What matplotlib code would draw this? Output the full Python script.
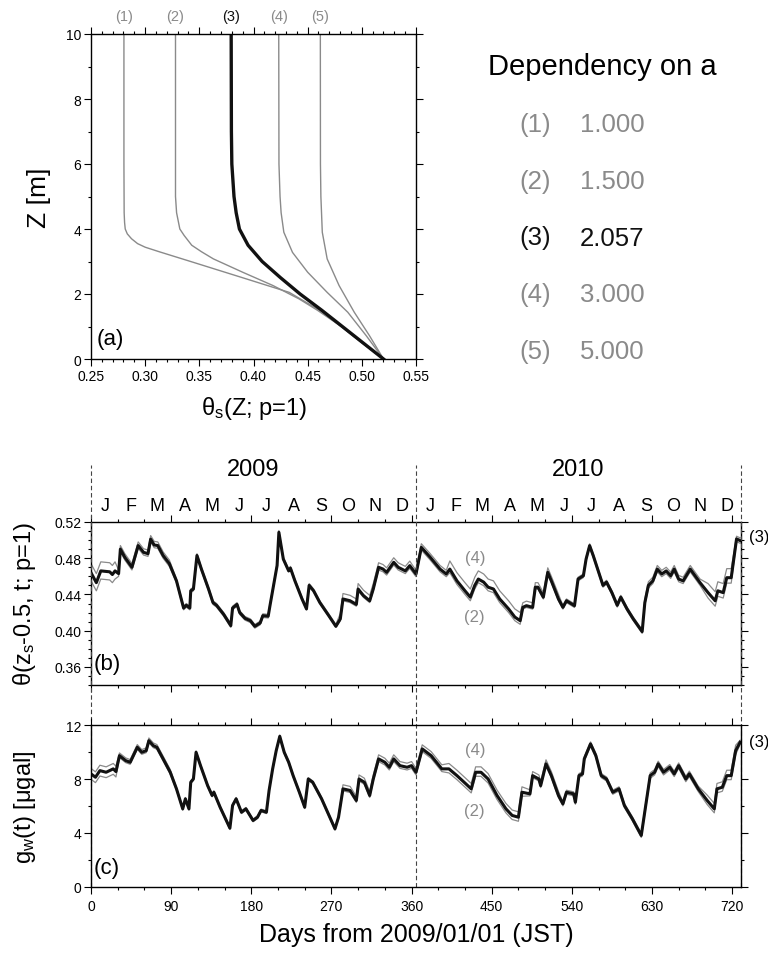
import numpy as np
import matplotlib
matplotlib.use("Agg")
import matplotlib.pyplot as plt
from matplotlib.ticker import MultipleLocator, FormatStrFormatter

plt.rcParams["font.family"] = ["Liberation Sans", "DejaVu Sans"]
plt.rcParams["mathtext.default"] = "regular"

GRAY = "#8a8a8a"
W, H = 768, 954

# ---- panel (a): theta_s(Z) profiles, one per value of a ----
z1 = [10, 6, 4.5, 4.2, 4.0, 3.85, 3.7, 3.55, 3.44, 3.3, 3.0, 2.5, 2.05, 1.5, 1.0, 0.5, 0]
t1 = [0.2804, 0.2804, 0.2806, 0.281, 0.2816, 0.2835, 0.2874, 0.293, 0.300, 0.313, 0.342,
      0.390, 0.433, 0.461, 0.481, 0.500, 0.520]
z2 = [10, 5, 4.5, 4.0, 3.8, 3.5, 3.3, 3.08, 2.67, 2.26, 1.85, 1.5, 1.0, 0.5, 0]
t2 = [0.328, 0.328, 0.329, 0.332, 0.336, 0.343, 0.352, 0.363, 0.390, 0.418, 0.442, 0.459,
      0.481, 0.500, 0.520]
z3 = [10, 7, 6, 5, 4.5, 4.0, 3.5, 3.0, 2.5, 2.0, 1.5, 1.0, 0.5, 0]
t3 = [0.3794, 0.3796, 0.380, 0.382, 0.384, 0.387, 0.395, 0.408, 0.425, 0.443, 0.463, 0.482,
      0.501, 0.520]
z4 = [10, 6, 5, 4.5, 3.9, 3.28, 2.67, 2.05, 1.44, 0.72, 0]
t4 = [0.4233, 0.4235, 0.4245, 0.4255, 0.428, 0.436, 0.450, 0.468, 0.487, 0.504, 0.520]
z5 = [10, 6, 5, 3.9, 3.08, 2.26, 1.44, 0.72, 0]
t5 = [0.4617, 0.4618, 0.4622, 0.4635, 0.468, 0.479, 0.493, 0.507, 0.520]

case_labels = ["(1)", "(2)", "(3)", "(4)", "(5)"]
a_values = ["1.000", "1.500", "2.057", "3.000", "5.000"]

# ---- panel (b): theta(z_s-0.5, t; p=1), case (3) ----
b_days = [0, 6, 11, 21, 24, 27, 31, 33, 38, 46,
          53, 59, 64, 67, 71, 75, 81, 88, 96, 104,
          107, 111, 112, 115, 119, 124, 132, 137, 141, 149,
          157, 159, 164, 167, 173, 179, 184, 190, 193, 199,
          201, 205, 209, 211, 216, 222, 224, 229, 237, 242,
          245, 250, 257, 267, 275, 280, 283, 291, 298, 300,
          306, 313, 317, 323, 328, 332, 340, 345, 353, 358,
          365, 371, 381, 392, 399, 403, 411, 420, 426, 431,
          435, 441, 446, 452, 459, 469, 476, 482, 485, 489,
          496, 499, 502, 508, 513, 517, 525, 530, 534, 543,
          547, 553, 556, 560, 564, 572, 575, 579, 585, 591,
          595, 602, 609, 619, 622, 626, 631, 636, 641, 646,
          651, 655, 660, 665, 673, 684, 693, 701, 704, 710,
          714, 719, 725, 729]
b_theta = [0.464, 0.453, 0.466, 0.465, 0.462, 0.466, 0.463, 0.490, 0.481, 0.470,
           0.494, 0.4865, 0.485, 0.501, 0.4946, 0.494, 0.483, 0.474, 0.455, 0.425,
           0.428, 0.425, 0.444, 0.446, 0.483, 0.468, 0.446, 0.431, 0.428, 0.418,
           0.4056, 0.425, 0.429, 0.420, 0.4136, 0.411, 0.4048, 0.4085, 0.4166, 0.416,
           0.4276, 0.450, 0.472, 0.5086, 0.479, 0.466, 0.469, 0.455, 0.435, 0.424,
           0.450, 0.444, 0.431, 0.4166, 0.4048, 0.413, 0.435, 0.433, 0.429, 0.446,
           0.4387, 0.433, 0.446, 0.470, 0.468, 0.4644, 0.4755, 0.470, 0.466, 0.4718,
           0.4626, 0.492, 0.481, 0.468, 0.4626, 0.468, 0.455, 0.444, 0.437, 0.450,
           0.457, 0.4536, 0.448, 0.446, 0.435, 0.424, 0.415, 0.411, 0.4258, 0.4276,
           0.4258, 0.448, 0.448, 0.437, 0.4644, 0.455, 0.435, 0.4258, 0.433, 0.4276,
           0.457, 0.4607, 0.479, 0.4939, 0.483, 0.459, 0.450, 0.4536, 0.442, 0.428,
           0.437, 0.424, 0.413, 0.399, 0.431, 0.450, 0.455, 0.468, 0.4626, 0.466,
           0.4607, 0.468, 0.457, 0.455, 0.468, 0.453, 0.442, 0.433, 0.444, 0.442,
           0.4585, 0.4585, 0.5013, 0.4995]

# ---- panel (c): g_w(t), case (3) ----
c_days = [0, 5, 10, 17, 25, 28, 32, 39, 44, 52,
          57, 62, 65, 70, 74, 81, 89, 96, 103, 106,
          110, 112, 115, 118, 123, 131, 136, 138, 145, 156,
          159, 163, 169, 174, 182, 187, 191, 197, 200, 204,
          208, 212, 217, 222, 227, 234, 240, 244, 249, 259,
          269, 274, 278, 283, 291, 298, 301, 307, 313, 317,
          323, 330, 335, 340, 347, 355, 360, 365, 372, 382,
          394, 402, 411, 421, 427, 432, 438, 446, 456, 466,
          473, 480, 484, 493, 496, 503, 505, 511, 517, 525,
          530, 534, 542, 544, 548, 552, 554, 561, 567, 573,
          579, 586, 593, 599, 608, 618, 623, 628, 633, 637,
          643, 650, 655, 660, 668, 672, 682, 692, 700, 703,
          709, 714, 719, 724, 729]
c_gw = [8.38, 8.13, 8.62, 8.5, 8.75, 8.55, 9.73, 9.36, 9.24, 10.35,
        9.98, 10.1, 10.84, 10.47, 10.35, 9.49, 8.5, 7.27, 5.79, 6.53,
        5.79, 7.76, 8.0, 9.98, 8.99, 7.51, 6.78, 7.02, 5.91, 4.36,
        6.04, 6.53, 5.54, 5.79, 4.93, 5.17, 5.67, 5.54, 7.15, 8.75,
        10.1, 11.16, 9.98, 9.24, 8.25, 7.02, 5.91, 8.0, 7.76, 6.53,
        5.05, 4.31, 5.17, 7.27, 7.15, 6.41, 8.0, 7.76, 6.78, 8.0,
        9.49, 9.24, 8.87, 9.49, 8.99, 8.87, 8.99, 8.5, 10.23, 9.73,
        8.75, 8.75, 8.25, 7.64, 7.27, 8.5, 8.5, 8.0, 6.78, 5.79,
        5.3, 5.17, 7.02, 6.9, 8.25, 8.0, 7.51, 9.12, 8.25, 6.78,
        6.16, 7.02, 6.9, 6.28, 8.25, 8.38, 9.49, 10.6, 9.73, 8.25,
        8.0, 7.02, 7.27, 6.04, 5.05, 3.82, 6.04, 8.25, 8.5, 9.12,
        8.5, 8.87, 8.38, 8.99, 8.0, 8.38, 7.27, 6.41, 5.79, 7.27,
        7.39, 8.25, 8.25, 10.1, 10.72]

# spread of cases (4) above and (2) below the thick curve, read per period
gap_days = [0, 30, 90, 200, 280, 320, 365, 400, 485, 530, 620, 690, 725]
b_gap_hi = [0.010, 0.004, 0.002, 0.002, 0.006, 0.005, 0.004, 0.009, 0.005, 0.002, 0.004, 0.010, 0.003]
b_gap_lo = [0.009, 0.003, 0.002, 0.001, 0.002, 0.003, 0.003, 0.004, 0.002, 0.002, 0.003, 0.006, 0.003]
c_gap_hi = [0.4, 0.2, 0.1, 0.1, 0.3, 0.3, 0.3, 0.4, 0.3, 0.15, 0.2, 0.4, 0.15]
c_gap_lo = [0.4, 0.15, 0.1, 0.1, 0.15, 0.2, 0.2, 0.3, 0.15, 0.15, 0.2, 0.3, 0.15]

months = ["J", "F", "M", "A", "M", "J", "J", "A", "S", "O", "N", "D"]
month_len = [31, 28, 31, 30, 31, 30, 31, 31, 30, 31, 30, 31]
years = ["2009", "2010"]
year_bounds = [0, 365, 730]


def style_ticks(ax, labelsize=9.5, pad=2):
    ax.tick_params(which="both", direction="out", width=0.8, labelsize=labelsize, pad=pad)
    ax.tick_params(which="major", length=5)
    ax.tick_params(which="minor", length=2.5)
    for s in ax.spines.values():
        s.set_linewidth(1.0)


fig = plt.figure(figsize=(W / 100, H / 100), dpi=100)

# ---------------- panel (a) ----------------
ax_a = fig.add_axes([91 / W, 1 - 360 / H, 325 / W, 325 / H])
profiles = [(t1, z1), (t2, z2), (t3, z3), (t4, z4), (t5, z5)]
for i, (t, z) in enumerate(profiles):
    if i == 2:
        continue
    ax_a.plot(t, z, color=GRAY, lw=1.0)
ax_a.plot(t3, z3, color="#111111", lw=2.4)
ax_a.set_xlim(0.25, 0.55)
ax_a.set_ylim(0, 10)
ax_a.xaxis.set_major_locator(MultipleLocator(0.05))
ax_a.xaxis.set_minor_locator(MultipleLocator(0.01))
ax_a.yaxis.set_major_locator(MultipleLocator(2))
ax_a.yaxis.set_minor_locator(MultipleLocator(1))
ax_a.xaxis.set_major_formatter(FormatStrFormatter("%.2f"))
style_ticks(ax_a, 10)
ax_a.tick_params(which="both", top=True, right=True)
for i, (t, z) in enumerate(profiles):
    ax_a.text(t[0], 1.055, case_labels[i], transform=ax_a.get_xaxis_transform(),
              ha="center", va="center", fontsize=10.5,
              color="#111111" if i == 2 else GRAY)
ax_a.text(0.018, 0.062, "(a)", transform=ax_a.transAxes, ha="left", va="center", fontsize=16)
fig.text(39 / W, 1 - 198 / H, "Z [m]", rotation=90, ha="center", va="center", fontsize=19)
fig.text(254 / W, 1 - 409 / H, r"θ$_s$(Z; p=1)", ha="center", va="center", fontsize=17)

# legend block
fig.text(602 / W, 1 - 67 / H, "Dependency on a", ha="center", va="center", fontsize=21)
for i in range(5):
    y = 1 - (125 + 56.75 * i) / H
    col = "#111111" if i == 2 else GRAY
    fig.text(519 / W, y, case_labels[i], ha="left", va="center", fontsize=18.5, color=col)
    fig.text(580 / W, y, a_values[i], ha="left", va="center", fontsize=18.5, color=col)

# ---------------- panels (b) and (c) ----------------
ax_b = fig.add_axes([91 / W, 1 - 686 / H, 650 / W, 163 / H])
ax_c = fig.add_axes([91 / W, 1 - 888 / H, 650 / W, 162 / H])

bd = np.array(b_days, dtype=float)
bt = np.array(b_theta)
cd = np.array(c_days, dtype=float)
cg = np.array(c_gw)
bi = np.searchsorted(gap_days, bd, side="right") - 1
ci = np.searchsorted(gap_days, cd, side="right") - 1

ax_b.plot(bd, bt + np.array(b_gap_hi)[bi], color=GRAY, lw=0.9)
ax_b.plot(bd, bt - np.array(b_gap_lo)[bi], color=GRAY, lw=0.9)
ax_b.plot(bd, bt, color="#111111", lw=2.2)
ax_c.plot(cd, cg + np.array(c_gap_hi)[ci], color=GRAY, lw=0.9)
ax_c.plot(cd, cg - np.array(c_gap_lo)[ci], color=GRAY, lw=0.9)
ax_c.plot(cd, cg, color="#111111", lw=2.2)

for ax in (ax_b, ax_c):
    ax.set_xlim(0, 730)
    ax.xaxis.set_major_locator(MultipleLocator(90))
    ax.xaxis.set_minor_locator(MultipleLocator(30))
    style_ticks(ax, 10, pad=4)
    ax.tick_params(which="both", top=True, right=True)

ax_b.set_ylim(0.34, 0.52)
ax_b.yaxis.set_major_locator(MultipleLocator(0.04))
ax_b.yaxis.set_minor_locator(MultipleLocator(0.01))
ax_b.yaxis.set_major_formatter(FormatStrFormatter("%.2f"))
ax_b.set_yticks([0.36, 0.40, 0.44, 0.48, 0.52])
ax_b.tick_params(labelbottom=False)
ax_b.tick_params(axis="y", pad=2)

ax_c.set_ylim(0, 12)
ax_c.yaxis.set_major_locator(MultipleLocator(4))
ax_c.yaxis.set_minor_locator(MultipleLocator(2))
ax_c.tick_params(axis="y", pad=2)

# dashed year boundaries running from the year labels down through (c)
top_ext = (888 - 466) / 162
for d in year_bounds:
    ax_c.axvline(d, ymin=0, ymax=top_ext, clip_on=False, color="#444444",
                 lw=0.8, ls=(0, (4, 2.5)), zorder=1)

# months and years above (b)
start = 0
for y_i, yr in enumerate(years):
    ax_b.text((year_bounds[y_i] + year_bounds[y_i + 1]) / 2, 1.325, yr,
              transform=ax_b.get_xaxis_transform(), ha="center", va="center", fontsize=17)
    for m, n in zip(months, month_len):
        ax_b.text(start + n / 2, 1.10, m, transform=ax_b.get_xaxis_transform(),
                  ha="center", va="center", fontsize=13)
        start += n

ax_b.text(431, 0.481, "(4)", ha="center", va="center", fontsize=12, color=GRAY)
ax_b.text(431, 0.416, "(2)", ha="center", va="center", fontsize=12, color=GRAY)
ax_c.text(431, 10.2, "(4)", ha="center", va="center", fontsize=12, color=GRAY)
ax_c.text(431, 5.7, "(2)", ha="center", va="center", fontsize=12, color=GRAY)
ax_b.text(1.012, 0.5045, "(3)", transform=ax_b.get_yaxis_transform(), ha="left",
          va="center", fontsize=12, clip_on=False)
ax_c.text(1.012, 10.8, "(3)", transform=ax_c.get_yaxis_transform(), ha="left",
          va="center", fontsize=12, clip_on=False)

ax_b.text(0.004, 0.13, "(b)", transform=ax_b.transAxes, ha="left", va="center", fontsize=16)
ax_c.text(0.004, 0.12, "(c)", transform=ax_c.transAxes, ha="left", va="center", fontsize=16)

fig.text(25 / W, 1 - 604 / H, r"θ(z$_s$-0.5, t; p=1)", rotation=90, ha="center",
         va="center", fontsize=17)
fig.text(25 / W, 1 - 807 / H, r"g$_w$(t) [μgal]", rotation=90, ha="center",
         va="center", fontsize=17)
fig.text(416 / W, 1 - 935 / H, "Days from 2009/01/01 (JST)", ha="center", va="center",
         fontsize=18)

fig.savefig("out.png", dpi=100)
